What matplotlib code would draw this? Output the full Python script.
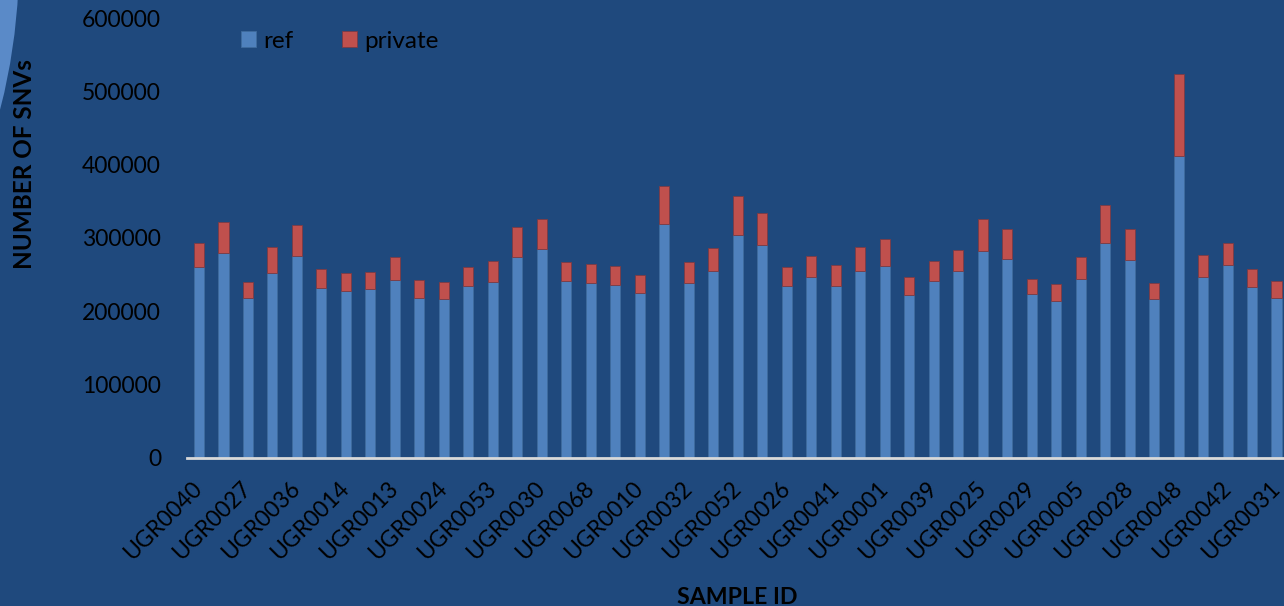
import matplotlib

matplotlib.use("Agg")
import matplotlib.pyplot as plt
import numpy as np
from matplotlib.patches import Ellipse

plt.rcParams.update(
    {
        "font.family": ["Lato", "DejaVu Sans"],
        "font.size": 16,
    }
)

BG = "#1F497D"
BLUE = "#4F81BD"
RED = "#C0504D"

# every other sample id is printed on the axis
tick_labels = [
    "UGR0040", "UGR0027", "UGR0036", "UGR0014", "UGR0013", "UGR0024",
    "UGR0053", "UGR0030", "UGR0068", "UGR0010", "UGR0032", "UGR0052",
    "UGR0026", "UGR0041", "UGR0001", "UGR0039", "UGR0025", "UGR0029",
    "UGR0005", "UGR0028", "UGR0048", "UGR0042", "UGR0031",
]

ref = [
    260900, 279100, 217600, 252300, 275500, 231300, 227200, 229900, 242700,
    218600, 216700, 234000, 239500, 274100, 284600, 241300, 238100, 235400,
    224400, 319200, 238100, 254500, 304600, 291000, 234500, 246300, 234500,
    255400, 261300, 221700, 241300, 254500, 281800, 271400, 223600, 213500,
    243600, 293700, 270100, 217200, 412500, 247200, 262700, 232600, 217600,
]

total = [
    293300, 322400, 240000, 287800, 317300, 257200, 252300, 254100, 274100,
    242700, 240400, 260900, 268700, 315100, 326500, 267300, 264600, 261900,
    249500, 371600, 267300, 286900, 357900, 334700, 260900, 275900, 262700,
    287800, 298700, 247200, 269100, 284100, 325500, 312400, 244500, 237700,
    274600, 345200, 312400, 238600, 523600, 276900, 293300, 258200, 241800,
]

private = [t - r for t, r in zip(total, ref)]
x = np.arange(len(ref))

W, H = 1284, 606
fig = plt.figure(figsize=(W / 100, H / 100), dpi=100, facecolor=BG)

# light arc in the top-left corner of the slide
fig.patches.append(
    Ellipse((-584 / W, 1 + 40 / H), 2 * 603 / W, 2 * 603 / H, transform=fig.transFigure,
            facecolor="#5A8AC8", edgecolor="none", zorder=0)
)

ax = fig.add_axes([186.75 / W, 1 - 457.7 / H, 1102 / W, (457.7 - 18.3) / H])
ax.patch.set_alpha(0)

ax.bar(x, ref, width=0.41, color=BLUE, edgecolor="#3F6B9E", linewidth=0.6, label="ref")
ax.bar(x, private, bottom=ref, width=0.41, color=RED, edgecolor="#7A3B45",
       linewidth=0.6, label="private")

ax.set_xlim(-0.5, len(ref) - 0.5)
ax.set_ylim(0, 600000)
ax.set_yticks(np.arange(0, 600001, 100000))
ax.set_yticklabels([str(v) for v in range(0, 600001, 100000)])
ax.set_xticks(x[::2])
ax.set_xticklabels(tick_labels, rotation=45, ha="right", va="center", rotation_mode="anchor")

for side in ["top", "right", "left"]:
    ax.spines[side].set_visible(False)
ax.spines["bottom"].set_color("#D9D9D9")
ax.spines["bottom"].set_linewidth(2)
ax.tick_params(axis="both", length=0, colors="black", labelsize=16.5)
ax.tick_params(axis="y", pad=18.5)
ax.tick_params(axis="x", pad=20)

fig.text(25 / W, 1 - 164 / H, "NUMBER OF SNVs", rotation=90, ha="center",
         va="center", fontsize=17.5, fontweight="bold", color="black")
fig.text(737 / W, 1 - 598 / H, "SAMPLE ID", ha="center", va="center",
         fontsize=16.7, fontweight="bold", color="black")

ax.legend(loc="upper left", bbox_to_anchor=(0.029, 1.022), ncol=2, frameon=False,
          fontsize=17.5, handlelength=0.62, handleheight=0.62, handletextpad=0.3,
          columnspacing=2.0, labelcolor="black")

fig.savefig("out.png", dpi=100, facecolor=BG)
